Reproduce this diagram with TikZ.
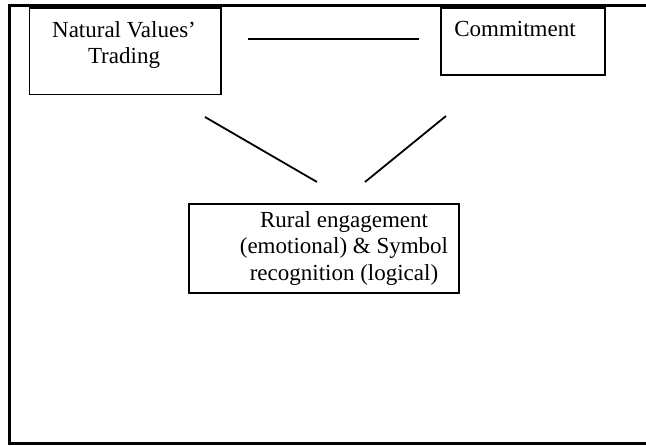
\documentclass[tikz,border=0pt]{standalone}
\usepackage{fontspec}
\setmainfont{Liberation Serif}
\usetikzlibrary{positioning}

\tikzset{
  box/.style={draw, line width=1.8pt, inner sep=0pt},
  txt/.style={inner sep=0pt, align=center, font=\fontsize{23}{26.5}\selectfont},
  link/.style={line width=1.8pt}
}

\begin{document}
\begin{tikzpicture}[x=1pt, y=-1pt]
      \useasboundingbox (0,0) rectangle (646,446);
      \draw[line width=3.3pt] (650,5.5) -- (9.5,5.5) -- (9.5,443.5) -- (650,443.5);

      \node[box, minimum width=191.5pt, minimum height=86.2pt] (NVT) at (125.25,51.4) {};
      \node[box, minimum width=164pt, minimum height=67pt] (COM) at (523,41.6) {};
      \node[box, minimum width=270pt, minimum height=89pt] (RUR) at (323.7,248.5) {};

      \node[txt, anchor=north] (NVTtext) at (124,21.3) {Natural Values'\\Trading};
      \node[txt, anchor=base] (COMtext) at (515,37) {Commitment};
      \node[txt, anchor=north] (RURtext) at (344,211.3) {Rural engagement\\(emotional) \& Symbol\\recognition (logical)};

      \coordinate (NVTend) at (248,39);
      \coordinate (COMend) at (419,39);
      \coordinate (NVTdown) at (205,117);
      \coordinate (RURleft) at (317,182);
      \coordinate (COMdown) at (446,116);
      \coordinate (RURright) at (365,182);

      \draw[link] (NVTend) -- (COMend);
      \draw[link] (NVTdown) -- (RURleft);
      \draw[link] (COMdown) -- (RURright);
    \end{tikzpicture}
\end{document}
